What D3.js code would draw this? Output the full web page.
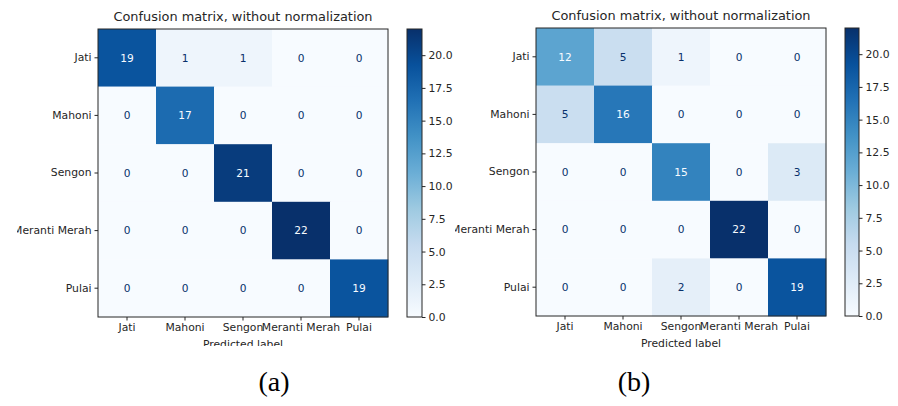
<!doctype html>
<html lang="en">
<head>
<meta charset="utf-8">
<title>Confusion matrices</title>
<script src="https://cdn.jsdelivr.net/npm/d3@7"></script>
<style>
    body { margin: 0; background: #fff; }
    svg text { font-family: "DejaVu Sans", sans-serif; fill: #262626; }
    .tick line { stroke: #262626; }
    .caption { font-family: "Liberation Serif", "Times New Roman", serif; }
</style>
</head>
<body>
<svg width="898" height="406"></svg>
<script>
var labels = ["Jati", "Mahoni", "Sengon", "Meranti Merah", "Pulai"];
var matrixA = [
    [19, 1, 1, 0, 0],
    [0, 17, 0, 0, 0],
    [0, 0, 21, 0, 0],
    [0, 0, 0, 22, 0],
    [0, 0, 0, 0, 19]
];
var matrixB = [
    [12, 5, 1, 0, 0],
    [5, 16, 0, 0, 0],
    [0, 0, 15, 0, 3],
    [0, 0, 0, 22, 0],
    [0, 0, 2, 0, 19]
];
var colorTicks = [0, 2.5, 5, 7.5, 10, 12.5, 15, 17.5, 20];
var vmax = 22;
var titleText = "Confusion matrix, without normalization";

var svg = d3.select("svg");

// matplotlib "Blues": linear between the 9 colorbrewer stops
var stops = d3.schemeBlues[9];
var color = d3.scaleLinear()
    .domain(stops.map(function(d, i) { return i * vmax / 8; }))
    .range(stops)
    .interpolate(d3.interpolateRgb);

function drawPanel(id, matrix, p) {
    svg.append("clipPath").attr("id", "clip" + id)
        .append("rect")
        .attr("x", p.clip[0]).attr("y", p.clip[1])
        .attr("width", p.clip[2] - p.clip[0]).attr("height", p.clip[3] - p.clip[1]);

    var g = svg.append("g").attr("clip-path", "url(#clip" + id + ")");

    var x = d3.scaleBand().domain(labels).range([p.left, p.right]);
    var y = d3.scaleBand().domain(labels).range([p.top, p.bottom]);

    var cells = [];
    matrix.forEach(function(row, i) {
        row.forEach(function(v, j) { cells.push({r: labels[i], c: labels[j], v: v}); });
    });

    g.selectAll("rect.cell").data(cells).enter().append("rect")
        .attr("class", "cell")
        .attr("x", function(d) { return x(d.c); })
        .attr("y", function(d) { return y(d.r); })
        .attr("width", x.bandwidth() + 0.3)
        .attr("height", y.bandwidth() + 0.3)
        .attr("fill", function(d) { return color(d.v); });

    g.selectAll("text.val").data(cells).enter().append("text")
        .attr("class", "val")
        .attr("x", function(d) { return x(d.c) + x.bandwidth() / 2; })
        .attr("y", function(d) { return y(d.r) + y.bandwidth() / 2; })
        .attr("dy", "0.36em")
        .attr("text-anchor", "middle")
        .style("font-size", "10.6px")
        .style("fill", function(d) { return d.v > vmax / 2 ? stops[0] : stops[8]; })
        .text(function(d) { return d.v; });

    g.append("rect")
        .attr("x", p.left).attr("y", p.top)
        .attr("width", p.right - p.left).attr("height", p.bottom - p.top)
        .attr("fill", "none").attr("stroke", "#262626").attr("stroke-width", 1);

    var xAxis = g.append("g")
        .attr("transform", "translate(0," + p.bottom + ")")
        .call(d3.axisBottom(x).tickSize(3.5).tickSizeOuter(0).tickPadding(3));
    var yAxis = g.append("g")
        .attr("transform", "translate(" + p.left + ",0)")
        .call(d3.axisLeft(y).tickSize(3.5).tickSizeOuter(0).tickPadding(3));
    [xAxis, yAxis].forEach(function(a) {
        a.select(".domain").remove();
        a.selectAll("text").style("font-size", "10.8px").style("fill", "#262626");
    });

    g.append("text")
        .attr("x", (p.left + p.right) / 2).attr("y", p.bottom + 31)
        .attr("text-anchor", "middle")
        .style("font-size", "10.8px")
        .text("Predicted label");

    g.append("text")
        .attr("x", (p.left + p.right) / 2).attr("y", p.top - 8)
        .attr("text-anchor", "middle")
        .style("font-size", "12.9px")
        .text(titleText);

    // colorbar
    var grad = svg.append("defs").append("linearGradient")
        .attr("id", "grad" + id)
        .attr("x1", 0).attr("y1", 1).attr("x2", 0).attr("y2", 0);
    grad.selectAll("stop").data(stops).enter().append("stop")
        .attr("offset", function(d, i) { return i / 8; })
        .attr("stop-color", function(d) { return d; });

    var cy = d3.scaleLinear().domain([0, vmax]).range([p.bottom, p.top]);
    g.append("rect")
        .attr("x", p.cbLeft).attr("y", p.top)
        .attr("width", p.cbWidth).attr("height", p.bottom - p.top)
        .attr("fill", "url(#grad" + id + ")")
        .attr("stroke", "#262626").attr("stroke-width", 1);

    var cAxis = g.append("g")
        .attr("transform", "translate(" + (p.cbLeft + p.cbWidth) + ",0)")
        .call(d3.axisRight(cy).tickValues(colorTicks).tickFormat(d3.format(".1f"))
            .tickSize(3.5).tickSizeOuter(0).tickPadding(3));
    cAxis.select(".domain").remove();
    cAxis.selectAll("text").style("font-size", "10.8px").style("fill", "#262626");

    svg.append("text")
        .attr("class", "caption")
        .attr("x", p.capX).attr("y", 391)
        .attr("text-anchor", "middle")
        .style("font-size", "28px")
        .style("fill", "#000")
        .text(p.caption);
}

drawPanel("a", matrixA, {
    left: 98, right: 388, top: 29, bottom: 317,
    cbLeft: 407, cbWidth: 15,
    clip: [17, 0, 456, 346],
    capX: 274, caption: "(a)"
});
drawPanel("b", matrixB, {
    left: 536, right: 826, top: 28, bottom: 316,
    cbLeft: 845, cbWidth: 14,
    clip: [455, 10, 898, 348],
    capX: 634, caption: "(b)"
});
</script>
</body>
</html>
